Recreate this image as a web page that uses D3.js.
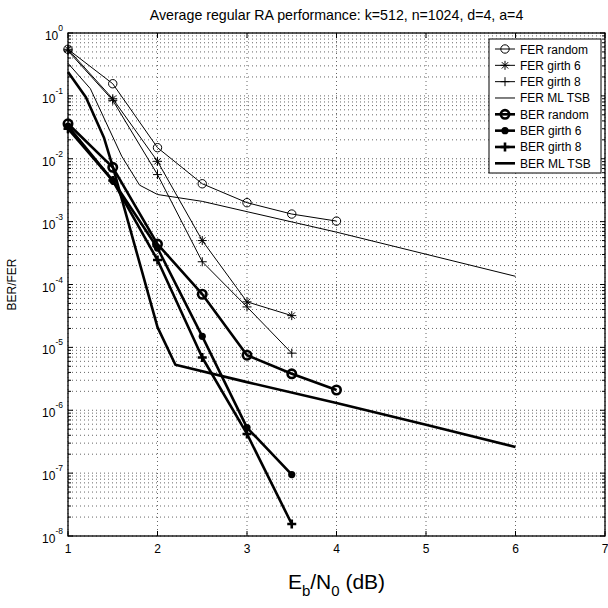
<!DOCTYPE html>
<html><head><meta charset="utf-8">
<script src="https://cdn.jsdelivr.net/npm/d3@7"></script>
<style>
html,body{margin:0;padding:0;background:#fff;}
text{font-family:"Liberation Sans",Arial,Helvetica,sans-serif;fill:#000;}
</style></head>
<body>
<svg id="c" width="608" height="608"></svg>
<script>
// ---- data ----
const titleText = "Average regular RA performance: k=512, n=1024, d=4, a=4";
const xTicks = [1, 2, 3, 4, 5, 6, 7];
const yExps = [0, -1, -2, -3, -4, -5, -6, -7, -8];

const xRandom = [1, 1.5, 2, 2.5, 3, 3.5, 4];
const xGirth = [1, 1.5, 2, 2.5, 3, 3.5];

const ferRandom = [0.55, 0.156, 0.0150, 0.0040, 0.0020, 0.00132, 0.00102];
const ferGirth6 = [0.55, 0.090, 0.0091, 0.00050, 5.3e-5, 3.2e-5];
const ferGirth8 = [0.52, 0.085, 0.0056, 2.3e-4, 4.4e-5, 8.1e-6];
const xFerMl = [1, 1.25, 1.6, 1.8, 2, 2.5, 3, 4, 6];
const ferMl = [0.33, 0.13, 0.011, 0.0038, 0.0027, 0.0021, 0.00144, 0.00068, 1.35e-4];

const berRandom = [0.036, 0.0073, 4.4e-4, 7.0e-5, 7.5e-6, 3.8e-6, 2.1e-6];
const berGirth6 = [0.033, 0.0045, 3.8e-4, 1.5e-5, 5.3e-7, 9.5e-8];
const berGirth8 = [0.030, 0.0045, 2.45e-4, 6.9e-6, 4.2e-7, 1.55e-8];
const xBerMl = [1, 1.2, 1.4, 1.5, 2, 2.2, 3, 4, 5, 6];
const berMl = [0.24, 0.095, 0.022, 0.0075, 2.1e-5, 5.3e-6, 2.8e-6, 1.3e-6, 5.9e-7, 2.6e-7];

const seriesNames = ["FER random","FER girth 6","FER girth 8","FER ML TSB","BER random","BER girth 6","BER girth 8","BER ML TSB"];

// ---- layout ----
const L = 68, R = 605, T = 33, B = 536;
const svg = d3.select("#c");
const x = d3.scaleLinear().domain([1, 7]).range([L, R]);
const y = d3.scaleLog().domain([1e-8, 1]).range([B, T]);

// grid
const g = svg.append("g");
const minorVals = [];
for (let e = -8; e < 0; e++) for (let m = 1; m <= 9; m++) minorVals.push(m * Math.pow(10, e));
minorVals.push(1);
g.selectAll("line.hy").data(minorVals).enter().append("line")
  .attr("x1", L).attr("x2", R).attr("y1", d => y(d)).attr("y2", d => y(d))
  .attr("stroke", "#666").attr("stroke-width", 1).attr("stroke-dasharray", "1,3");
g.selectAll("line.vx").data(xTicks).enter().append("line")
  .attr("x1", d => x(d)).attr("x2", d => x(d)).attr("y1", T).attr("y2", B)
  .attr("stroke", "#666").attr("stroke-width", 1).attr("stroke-dasharray", "1,3");

// ticks
const tk = svg.append("g").attr("stroke", "#000").attr("stroke-width", 1);
xTicks.forEach(v => {
  tk.append("line").attr("x1", x(v)).attr("x2", x(v)).attr("y1", B).attr("y2", B - 5);
  tk.append("line").attr("x1", x(v)).attr("x2", x(v)).attr("y1", T).attr("y2", T + 5);
});
minorVals.forEach(v => {
  const major = Math.abs(Math.log10(v) - Math.round(Math.log10(v))) < 1e-9;
  const len = major ? 5 : 3;
  tk.append("line").attr("x1", L).attr("x2", L + len).attr("y1", y(v)).attr("y2", y(v));
  tk.append("line").attr("x1", R).attr("x2", R - len).attr("y1", y(v)).attr("y2", y(v));
});

// box
svg.append("rect").attr("x", L).attr("y", T).attr("width", R - L).attr("height", B - T)
  .attr("fill", "none").attr("stroke", "#000").attr("stroke-width", 1.3);

// tick labels
svg.selectAll("text.xt").data(xTicks).enter().append("text")
  .attr("x", d => x(d)).attr("y", B + 17).attr("text-anchor", "middle")
  .attr("font-size", 12).text(d => d);
yExps.forEach(e => {
  const t = svg.append("text").attr("x", L - 5).attr("y", y(Math.pow(10, e)) + 7)
    .attr("text-anchor", "end").attr("font-size", 12);
  t.append("tspan").text("10");
  t.append("tspan").attr("dy", -9).attr("font-size", 8.5).text(String(e));
});

// title & axis labels
svg.append("text").attr("x", (L + R) / 2).attr("y", 20).attr("text-anchor", "middle")
  .attr("font-size", 14.2).text(titleText);
svg.append("text").attr("transform", `translate(16,${(T + B) / 2}) rotate(-90)`)
  .attr("text-anchor", "middle").attr("font-size", 12).text("BER/FER");
const xl = svg.append("text").attr("x", (L + R) / 2).attr("y", 589).attr("text-anchor", "middle")
  .attr("font-size", 21);
xl.append("tspan").text("E");
xl.append("tspan").attr("dy", 7).attr("font-size", 15).text("b");
xl.append("tspan").attr("dy", -7).text("/N");
xl.append("tspan").attr("dy", 7).attr("font-size", 15).text("0");
xl.append("tspan").attr("dy", -7).text(" (dB)");

// ---- series ----
const series = [
  {xs: xRandom, ys: ferRandom, w: 1, m: "circle"},
  {xs: xGirth, ys: ferGirth6, w: 1, m: "star"},
  {xs: xGirth, ys: ferGirth8, w: 1, m: "plus"},
  {xs: xFerMl, ys: ferMl, w: 1, m: null},
  {xs: xRandom, ys: berRandom, w: 2.6, m: "circle"},
  {xs: xGirth, ys: berGirth6, w: 2.6, m: "dot"},
  {xs: xGirth, ys: berGirth8, w: 2.6, m: "plus"},
  {xs: xBerMl, ys: berMl, w: 2.6, m: null}
];
const line = d3.line().x(d => x(d[0])).y(d => y(d[1]));
const plot = svg.append("g");

function marker(sel, type, w, cx, cy) {
  if (!type) return;
  if (type === "circle") {
    sel.append("circle").attr("cx", cx).attr("cy", cy).attr("r", 4.2)
      .attr("fill", "none").attr("stroke", "#000").attr("stroke-width", w);
  } else if (type === "dot") {
    sel.append("circle").attr("cx", cx).attr("cy", cy).attr("r", 3.6).attr("fill", "#000");
  } else if (type === "star") {
    sel.append("path").attr("transform", `translate(${cx},${cy})`)
      .attr("d", "M-4.5,0H4.5M0,-4.5V4.5M-3.2,-3.2L3.2,3.2M-3.2,3.2L3.2,-3.2")
      .attr("stroke", "#000").attr("stroke-width", w).attr("fill", "none");
  } else if (type === "plus") {
    sel.append("path").attr("transform", `translate(${cx},${cy})`)
      .attr("d", "M-4.5,0H4.5M0,-4.5V4.5")
      .attr("stroke", "#000").attr("stroke-width", w).attr("fill", "none");
  }
}

series.forEach(s => {
  const pts = s.xs.map((v, i) => [v, s.ys[i]]);
  plot.append("path").datum(pts).attr("d", line).attr("fill", "none")
    .attr("stroke", "#000").attr("stroke-width", s.w).attr("stroke-linejoin", "round");
  pts.forEach(p => marker(plot, s.m, s.w, x(p[0]), y(p[1])));
});

// ---- legend ----
const lg = svg.append("g");
lg.append("rect").attr("x", 489).attr("y", 39).attr("width", 112).attr("height", 134)
  .attr("fill", "#fff").attr("stroke", "#000").attr("stroke-width", 1);
seriesNames.forEach((n, i) => {
  const cy = 49 + i * 16.33;
  const s = series[i];
  lg.append("line").attr("x1", 495).attr("x2", 515).attr("y1", cy).attr("y2", cy)
    .attr("stroke", "#000").attr("stroke-width", s.w);
  marker(lg, s.m, s.w, 505, cy);
  lg.append("text").attr("x", 520).attr("y", cy + 4.5).attr("font-size", 12).text(n);
});
</script>
</body></html>
